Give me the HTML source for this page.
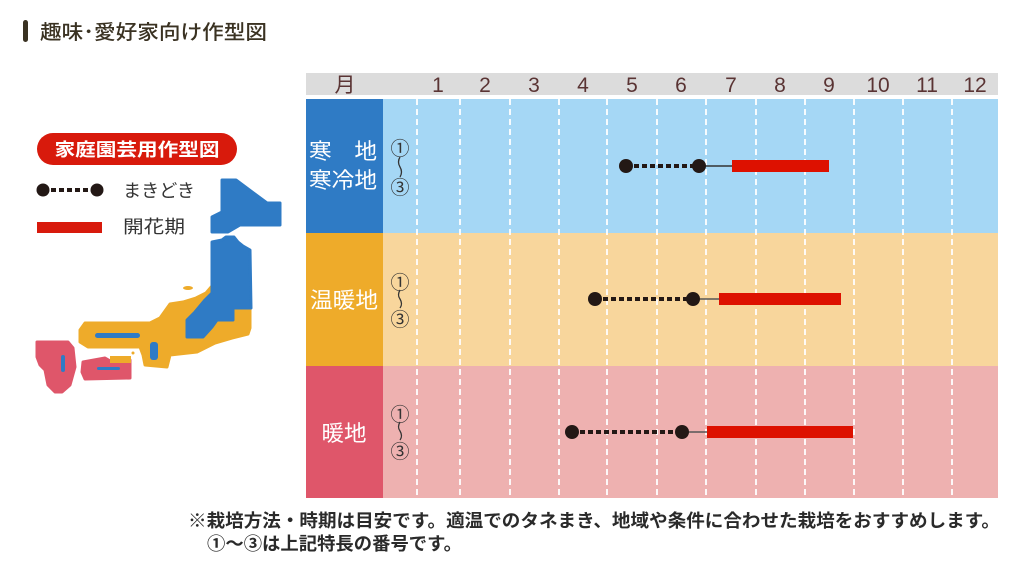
<!DOCTYPE html>
<html><head><meta charset="utf-8"><style>
html,body{margin:0;padding:0;background:#fff;}
svg{display:block;}
text{font-family:"Liberation Sans","Noto Sans CJK JP",sans-serif;}
</style></head><body>
<svg width="1028" height="565" viewBox="0 0 1028 565" xmlns="http://www.w3.org/2000/svg">
<!-- title -->
<rect x="23" y="20" width="5" height="22" rx="2.5" fill="#3a3222"/>
<text x="40" y="39" font-size="20" font-weight="500" fill="#3a3222" textLength="227" lengthAdjust="spacingAndGlyphs">趣味･愛好家向け作型図</text>

<!-- legend -->
<rect x="37" y="133" width="200" height="32" rx="16" fill="#d81a0c"/>
<text x="137" y="156" font-size="18" font-weight="bold" fill="#fff" text-anchor="middle" textLength="165" lengthAdjust="spacingAndGlyphs">家庭園芸用作型図</text>
<line x1="43" y1="190" x2="97" y2="190" stroke="#231815" stroke-width="4" stroke-dasharray="5 3"/>
<circle cx="43" cy="190" r="6.5" fill="#231815"/>
<circle cx="97" cy="190" r="6.5" fill="#231815"/>
<text x="123" y="197" font-size="18" fill="#333" textLength="72" lengthAdjust="spacingAndGlyphs">まきどき</text>
<rect x="37" y="222" width="65" height="11" fill="#d81a0c"/>
<text x="123" y="233" font-size="18" fill="#333" textLength="62" lengthAdjust="spacingAndGlyphs">開花期</text>

<!-- map -->
<g stroke-linejoin="round">
<polygon points="222,180 236,180 267,203 280,203 280,225 240,225 228,232 212,232 212,217 222,212" fill="#2f7bc5" stroke="#2f7bc5" stroke-width="3"/>
<polygon points="212,286 206,293 196,298 183,302 170,304 160,318 150,323 85,323 80,330 80,342 88,347 140,347 143,355 145,365 167,367 170,355 197,352 215,343 232,338 248,334 250,328 250,306 212,306" fill="#eeab2a" stroke="#eeab2a" stroke-width="3"/>
<polygon points="212,242 222,240 226,237 234,237 238,242 243,246 250,250 251,308 233,308 233,320 217,320 212,327 203,337 187,337 187,320 195,312 205,300 212,293" fill="#2f7bc5" stroke="#2f7bc5" stroke-width="3"/>
<rect x="95" y="333" width="45" height="5" rx="2.5" fill="#2f7bc5"/>
<rect x="150" y="342" width="8" height="18" rx="3" fill="#2f7bc5"/>
<ellipse cx="188" cy="288" rx="5" ry="2" fill="#eeab2a"/>
<circle cx="133" cy="353" r="1.5" fill="#eeab2a"/>
<polygon points="37,342 68,342 73,348 75,367 70,385 62,392 55,392 48,385 45,370 40,365 37,357" fill="#df566a" stroke="#df566a" stroke-width="3"/>
<rect x="61" y="355" width="4" height="17" rx="2" fill="#2f7bc5"/>
<polygon points="83,362 105,358 112,362 130,360 130,378 85,379 82,372" fill="#df566a" stroke="#df566a" stroke-width="3"/>
<rect x="110" y="356" width="21" height="7" fill="#eeab2a"/>
<rect x="97" y="367" width="23" height="3" rx="1.5" fill="#2f7bc5"/>
</g>

<!-- header -->
<rect x="306" y="73" width="692" height="22" fill="#dcdcdc"/>
<g font-size="21" fill="#5a3434" text-anchor="middle">
<text x="345" y="92">月</text>
<text x="438" y="92">1</text>
<text x="485" y="92">2</text>
<text x="534" y="92">3</text>
<text x="583" y="92">4</text>
<text x="632" y="92">5</text>
<text x="681" y="92">6</text>
<text x="731" y="92">7</text>
<text x="780" y="92">8</text>
<text x="829" y="92">9</text>
<text x="878" y="92">10</text>
<text x="927" y="92">11</text>
<text x="975" y="92">12</text>
</g>

<!-- rows -->
<rect x="306" y="99" width="77" height="134" fill="#2f7bc5"/>
<rect x="383" y="99" width="615" height="134" fill="#a5d7f5"/>
<rect x="306" y="233" width="77" height="133" fill="#eeab2a"/>
<rect x="383" y="233" width="615" height="133" fill="#f8d69c"/>
<rect x="306" y="366" width="77" height="132" fill="#df566a"/>
<rect x="383" y="366" width="615" height="132" fill="#eeb1b0"/>

<!-- dashed grid -->
<g stroke="#ffffff" stroke-width="2" stroke-dasharray="6 4" opacity="0.9">
<line x1="417" y1="99" x2="417" y2="498"/>
<line x1="460" y1="99" x2="460" y2="498"/>
<line x1="510" y1="99" x2="510" y2="498"/>
<line x1="559" y1="99" x2="559" y2="498"/>
<line x1="607" y1="99" x2="607" y2="498"/>
<line x1="657" y1="99" x2="657" y2="498"/>
<line x1="706" y1="99" x2="706" y2="498"/>
<line x1="756" y1="99" x2="756" y2="498"/>
<line x1="805" y1="99" x2="805" y2="498"/>
<line x1="854" y1="99" x2="854" y2="498"/>
<line x1="903" y1="99" x2="903" y2="498"/>
<line x1="952" y1="99" x2="952" y2="498"/>
</g>

<!-- row labels -->
<g font-size="22" fill="#fff" text-anchor="middle">
<text x="343" y="159" textLength="68" lengthAdjust="spacingAndGlyphs">寒　地</text>
<text x="343" y="188" textLength="68" lengthAdjust="spacingAndGlyphs">寒冷地</text>
<text x="344" y="308" textLength="68" lengthAdjust="spacingAndGlyphs">温暖地</text>
<text x="344" y="441" textLength="45" lengthAdjust="spacingAndGlyphs">暖地</text>
</g>

<!-- circled numbers -->
<g font-size="19" fill="#333" text-anchor="middle">
<text x="400" y="155">①</text><text x="400" y="194">③</text>
<text x="400" y="289">①</text><text x="400" y="326">③</text>
<text x="400" y="421">①</text><text x="400" y="458">③</text>
</g>
<g fill="none" stroke="#333" stroke-width="1.3">
<path d="M400,157 q-3,5 0,10 q3,5 0,10"/>
<path d="M400,290 q-3,5 0,9 q3,5 0,9"/>
<path d="M400,422 q-3,5 0,9 q3,5 0,9"/>
</g>

<!-- series row 1 -->
<g>
<line x1="626" y1="166" x2="699" y2="166" stroke="#231815" stroke-width="4" stroke-dasharray="5 3"/>
<line x1="699" y1="166" x2="732" y2="166" stroke="#333" stroke-width="1.5"/>
<circle cx="626" cy="166" r="7" fill="#231815"/>
<circle cx="699" cy="166" r="7" fill="#231815"/>
<rect x="732" y="160" width="97" height="12" fill="#dd1100"/>
</g>
<!-- row 2 -->
<g>
<line x1="595" y1="299" x2="693" y2="299" stroke="#231815" stroke-width="4" stroke-dasharray="5 3"/>
<line x1="693" y1="299" x2="719" y2="299" stroke="#555" stroke-width="1.5"/>
<circle cx="595" cy="299" r="7" fill="#231815"/>
<circle cx="693" cy="299" r="7" fill="#231815"/>
<rect x="719" y="293" width="122" height="12" fill="#dd1100"/>
</g>
<!-- row 3 -->
<g>
<line x1="572" y1="432" x2="682" y2="432" stroke="#231815" stroke-width="4" stroke-dasharray="5 3"/>
<line x1="682" y1="432" x2="707" y2="432" stroke="#555" stroke-width="1.5"/>
<circle cx="572" cy="432" r="7" fill="#231815"/>
<circle cx="682" cy="432" r="7" fill="#231815"/>
<rect x="707" y="426" width="146" height="12" fill="#dd1100"/>
</g>

<!-- footnote -->
<text x="188" y="527" font-size="18" font-weight="bold" fill="#2a2a2a" textLength="812" lengthAdjust="spacingAndGlyphs">※栽培方法・時期は目安です。適温でのタネまき、地域や条件に合わせた栽培をおすすめします。</text>
<text x="207" y="550" font-size="18" font-weight="bold" fill="#2a2a2a" textLength="255" lengthAdjust="spacingAndGlyphs">①〜③は上記特長の番号です。</text>
</svg>
</body></html>
